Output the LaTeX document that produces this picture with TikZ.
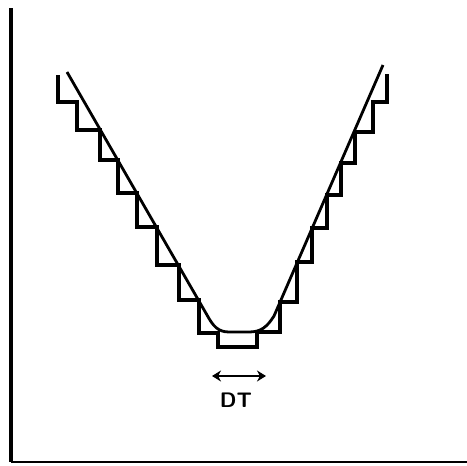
\documentclass[tikz,border=0pt]{standalone}
\usepackage{tikz}
\usetikzlibrary{arrows.meta,positioning}

\begin{document}
\begin{tikzpicture}[x=0.5pt,y=-0.5pt,line join=miter,font=\sffamily\bfseries\fontsize{10.5}{12}\selectfont]
					\useasboundingbox (0,0) rectangle (467,466);
					\tikzset{cadre/.style={line width=1.8pt},
						marche/.style={line width=1.6pt},
						pente/.style={line width=1.4pt},
						cote/.style={line width=1.3pt,{Stealth[length=4.5pt,width=5.5pt]}-{Stealth[length=4.5pt,width=5.5pt]}}}
					
					\draw[cadre](11,8)--(11,462);
					\draw[cadre,line width=1.2pt](11,462)--(467,462);
					
					\draw[marche](58,75)--(58,102)--(77,102)--(77,130)--(100,130)--(100,160)--(118,160)--(118,193)--(137,193)--(137,227)--(157,227)--(157,265)--(179,265)--(179,300)--(199,300)--(199,333)--(218,333)--(218,347)
						--(257,347)--(257,332)--(280,332)--(280,302)--(297,302)--(297,262)--(312,262)--(312,228)--(327,228)--(327,195)--(341,195)--(341,163)--(355,163)--(355,132)--(373,132)--(373,102)--(387,102)--(387,74);
					
					\draw[pente](67,72)--(207,315) .. controls (213,326) and (218,332) .. (229,332)--(249,332) .. controls (261,332) and (267,327) .. (274,316)--(383,65);
					
					\coordinate (dtg) at (212,376);
					\coordinate (dtd) at (266,376);
					\draw[cote](dtg)--(dtd);
					\node (dt) at (236,400) {DT};
				\end{tikzpicture}
\end{document}
